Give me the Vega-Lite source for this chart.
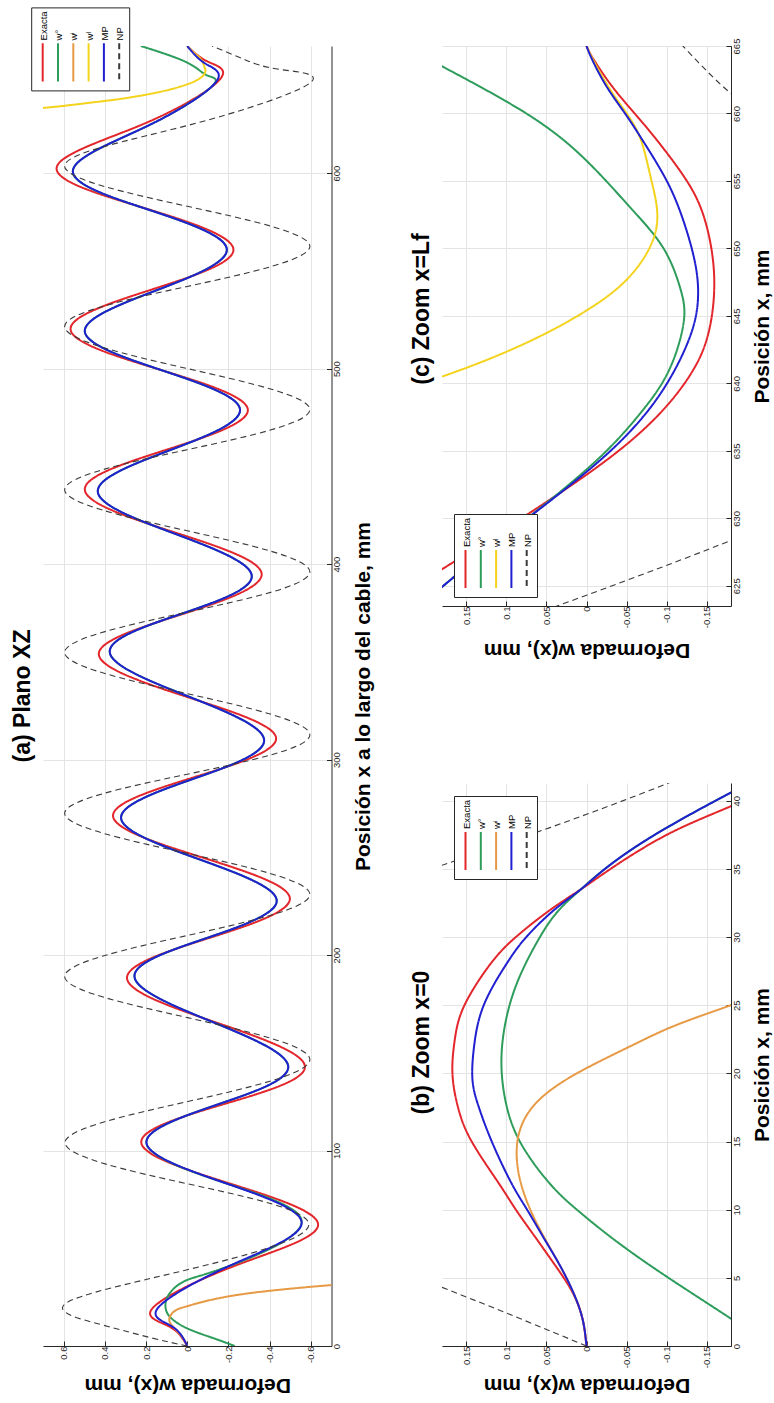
{
  "$schema": "https://vega.github.io/schema/vega-lite/v6.json",
  "background": "white",
  "autosize": {"type": "pad"},
  "padding": {"left": 11, "top": 6, "right": 2, "bottom": 4},
  "config": {
    "font": "Liberation Sans",
    "view": {"stroke": null},
    "axis": {
      "grid": true,
      "gridColor": "#e4e4e4",
      "gridWidth": 1,
      "domainColor": "#262626",
      "domainWidth": 1,
      "tickColor": "#262626",
      "tickSize": -5,
      "tickWidth": 1,
      "labelFont": "Liberation Sans",
      "labelFontSize": 9.5,
      "labelColor": "#262626",
      "titleFont": "Liberation Sans",
      "titleFontSize": 21,
      "titleFontWeight": "bold",
      "titleColor": "black"
    },
    "legend": {
      "orient": "none",
      "direction": "horizontal",
      "symbolType": "M0,-5.5L0,-5.5M0,0.33L0,6.67",
      "symbolSize": 144,
      "symbolStrokeWidth": 2,
      "labelFont": "Liberation Sans",
      "labelFontSize": 9.5,
      "labelColor": "black",
      "labelAlign": "left",
      "labelBaseline": "middle",
      "labelOffset": -6,
      "labelLimit": 200,
      "titleFontSize": 18,
      "titlePadding": 4,
      "columnPadding": 2.3,
      "padding": 4.5,
      "fillColor": "white",
      "strokeColor": "#262626",
      "cornerRadius": 0
    },
    "title": {
      "font": "Liberation Sans",
      "fontSize": 23,
      "fontWeight": "bold",
      "color": "black",
      "orient": "left",
      "anchor": "middle",
      "offset": 8
    }
  },
  "datasets": {
    "plano": [
      {"serie": "Exacta", "p": 0, "w": 0}, {"serie": "Exacta", "p": 10, "w": 0.088}, {"serie": "Exacta", "p": 19.5, "w": 0.167},
      {"serie": "Exacta", "p": 41, "w": -0.23}, {"serie": "Exacta", "p": 62, "w": -0.635}, {"serie": "Exacta", "p": 83, "w": -0.21},
      {"serie": "Exacta", "p": 104, "w": 0.223}, {"serie": "Exacta", "p": 123.5, "w": -0.17}, {"serie": "Exacta", "p": 143, "w": -0.571},
      {"serie": "Exacta", "p": 165.5, "w": -0.14}, {"serie": "Exacta", "p": 188, "w": 0.292}, {"serie": "Exacta", "p": 208.5, "w": -0.1},
      {"serie": "Exacta", "p": 229, "w": -0.498}, {"serie": "Exacta", "p": 250, "w": -0.07}, {"serie": "Exacta", "p": 271, "w": 0.36},
      {"serie": "Exacta", "p": 291, "w": -0.035}, {"serie": "Exacta", "p": 311, "w": -0.431}, {"serie": "Exacta", "p": 332, "w": 0},
      {"serie": "Exacta", "p": 353.7, "w": 0.429}, {"serie": "Exacta", "p": 374, "w": 0.035}, {"serie": "Exacta", "p": 395, "w": -0.361},
      {"serie": "Exacta", "p": 416.5, "w": 0.07}, {"serie": "Exacta", "p": 438, "w": 0.497}, {"serie": "Exacta", "p": 458.5, "w": 0.1},
      {"serie": "Exacta", "p": 479, "w": -0.294}, {"serie": "Exacta", "p": 499.5, "w": 0.135}, {"serie": "Exacta", "p": 520, "w": 0.566},
      {"serie": "Exacta", "p": 540.5, "w": 0.17}, {"serie": "Exacta", "p": 561, "w": -0.224}, {"serie": "Exacta", "p": 582, "w": 0.205},
      {"serie": "Exacta", "p": 602.5, "w": 0.634}, {"serie": "Exacta", "p": 625, "w": 0.215}, {"serie": "Exacta", "p": 648, "w": -0.159},
      {"serie": "Exacta", "p": 657, "w": -0.1}, {"serie": "Exacta", "p": 665, "w": 0},

      {"serie": "w°", "p": 0, "w": -0.23}, {"serie": "w°", "p": 4, "w": -0.127}, {"serie": "w°", "p": 9, "w": 0},
      {"serie": "w°", "p": 15, "w": 0.085}, {"serie": "w°", "p": 21, "w": 0.106}, {"serie": "w°", "p": 27, "w": 0.085},
      {"serie": "w°", "p": 33.5, "w": 0.007}, {"serie": "w°", "p": 41, "w": -0.205}, {"serie": "w°", "p": 63, "w": -0.555},
      {"serie": "w°", "p": 83.5, "w": -0.18}, {"serie": "w°", "p": 104, "w": 0.198}, {"serie": "w°", "p": 123.5, "w": -0.146},
      {"serie": "w°", "p": 143, "w": -0.49}, {"serie": "w°", "p": 166, "w": -0.117}, {"serie": "w°", "p": 189, "w": 0.256},
      {"serie": "w°", "p": 208.5, "w": -0.089}, {"serie": "w°", "p": 228, "w": -0.434}, {"serie": "w°", "p": 249, "w": -0.057},
      {"serie": "w°", "p": 270, "w": 0.321}, {"serie": "w°", "p": 290, "w": -0.026}, {"serie": "w°", "p": 310, "w": -0.373},
      {"serie": "w°", "p": 332.5, "w": 0}, {"serie": "w°", "p": 355, "w": 0.376}, {"serie": "w°", "p": 374.5, "w": 0.03},
      {"serie": "w°", "p": 394, "w": -0.313}, {"serie": "w°", "p": 415.5, "w": 0.06}, {"serie": "w°", "p": 437, "w": 0.434},
      {"serie": "w°", "p": 458, "w": 0.09}, {"serie": "w°", "p": 479, "w": -0.256}, {"serie": "w°", "p": 499, "w": 0.12},
      {"serie": "w°", "p": 519, "w": 0.497}, {"serie": "w°", "p": 540, "w": 0.15}, {"serie": "w°", "p": 561, "w": -0.192},
      {"serie": "w°", "p": 581, "w": 0.18}, {"serie": "w°", "p": 601, "w": 0.555}, {"serie": "w°", "p": 624, "w": 0.195},
      {"serie": "w°", "p": 644.5, "w": -0.121}, {"serie": "w°", "p": 650, "w": -0.096}, {"serie": "w°", "p": 656.5, "w": 0},
      {"serie": "w°", "p": 665, "w": 0.225},

      {"serie": "wⁱ", "p": 0, "w": 0}, {"serie": "wⁱ", "p": 5, "w": 0.027}, {"serie": "wⁱ", "p": 10, "w": 0.07},
      {"serie": "wⁱ", "p": 14, "w": 0.087}, {"serie": "wⁱ", "p": 18, "w": 0.06}, {"serie": "wⁱ", "p": 20, "w": 0.012},
      {"serie": "wⁱ", "p": 22, "w": -0.055}, {"serie": "wⁱ", "p": 25, "w": -0.18}, {"serie": "wⁱ", "p": 28, "w": -0.38},
      {"serie": "wⁱ", "p": 31, "w": -0.68}, {"serie": "wⁱ", "p": 33, "w": -0.95},

      {"serie": "wˡ", "p": 631.5, "w": 0.95}, {"serie": "wˡ", "p": 633.3, "w": 0.7}, {"serie": "wˡ", "p": 636, "w": 0.47},
      {"serie": "wˡ", "p": 638, "w": 0.32}, {"serie": "wˡ", "p": 640.5, "w": 0.18}, {"serie": "wˡ", "p": 643, "w": 0.075},
      {"serie": "wˡ", "p": 645.4, "w": 0}, {"serie": "wˡ", "p": 648, "w": -0.055}, {"serie": "wˡ", "p": 651.5, "w": -0.087},
      {"serie": "wˡ", "p": 655, "w": -0.081}, {"serie": "wˡ", "p": 658, "w": -0.068}, {"serie": "wˡ", "p": 661, "w": -0.038},
      {"serie": "wˡ", "p": 665, "w": 0},

      {"serie": "MP", "p": 0, "w": 0}, {"serie": "MP", "p": 10, "w": 0.074}, {"serie": "MP", "p": 19.5, "w": 0.142},
      {"serie": "MP", "p": 41, "w": -0.205}, {"serie": "MP", "p": 63, "w": -0.555}, {"serie": "MP", "p": 83.5, "w": -0.18},
      {"serie": "MP", "p": 104, "w": 0.198}, {"serie": "MP", "p": 123.5, "w": -0.146}, {"serie": "MP", "p": 143, "w": -0.49},
      {"serie": "MP", "p": 166, "w": -0.117}, {"serie": "MP", "p": 189, "w": 0.256}, {"serie": "MP", "p": 208.5, "w": -0.089},
      {"serie": "MP", "p": 228, "w": -0.434}, {"serie": "MP", "p": 249, "w": -0.057}, {"serie": "MP", "p": 270, "w": 0.321},
      {"serie": "MP", "p": 290, "w": -0.026}, {"serie": "MP", "p": 310, "w": -0.373}, {"serie": "MP", "p": 332.5, "w": 0},
      {"serie": "MP", "p": 355, "w": 0.376}, {"serie": "MP", "p": 374.5, "w": 0.03}, {"serie": "MP", "p": 394, "w": -0.313},
      {"serie": "MP", "p": 415.5, "w": 0.06}, {"serie": "MP", "p": 437, "w": 0.434}, {"serie": "MP", "p": 458, "w": 0.09},
      {"serie": "MP", "p": 479, "w": -0.256}, {"serie": "MP", "p": 499, "w": 0.12}, {"serie": "MP", "p": 519, "w": 0.497},
      {"serie": "MP", "p": 540, "w": 0.15}, {"serie": "MP", "p": 561, "w": -0.192}, {"serie": "MP", "p": 581, "w": 0.18},
      {"serie": "MP", "p": 601, "w": 0.555}, {"serie": "MP", "p": 624, "w": 0.195}, {"serie": "MP", "p": 646.5, "w": -0.139},
      {"serie": "MP", "p": 656, "w": -0.088}, {"serie": "MP", "p": 665, "w": 0},

      {"serie": "NP", "p": 0, "w": 0}, {"serie": "NP", "p": 4.3, "w": 0.18}, {"serie": "NP", "p": 11, "w": 0.42},
      {"serie": "NP", "p": 21.8, "w": 0.59}, {"serie": "NP", "p": 39, "w": 0}, {"serie": "NP", "p": 62, "w": -0.59},
      {"serie": "NP", "p": 83, "w": 0}, {"serie": "NP", "p": 104, "w": 0.593}, {"serie": "NP", "p": 125, "w": 0},
      {"serie": "NP", "p": 146.5, "w": -0.595}, {"serie": "NP", "p": 168, "w": 0}, {"serie": "NP", "p": 189, "w": 0.595},
      {"serie": "NP", "p": 210, "w": 0}, {"serie": "NP", "p": 231, "w": -0.595}, {"serie": "NP", "p": 252, "w": 0},
      {"serie": "NP", "p": 272.5, "w": 0.595}, {"serie": "NP", "p": 292.5, "w": 0}, {"serie": "NP", "p": 312.6, "w": -0.595},
      {"serie": "NP", "p": 333.7, "w": 0}, {"serie": "NP", "p": 354.8, "w": 0.595}, {"serie": "NP", "p": 375.4, "w": 0},
      {"serie": "NP", "p": 396, "w": -0.595}, {"serie": "NP", "p": 417, "w": 0}, {"serie": "NP", "p": 438, "w": 0.595},
      {"serie": "NP", "p": 458.5, "w": 0}, {"serie": "NP", "p": 479, "w": -0.595}, {"serie": "NP", "p": 500, "w": 0},
      {"serie": "NP", "p": 521.5, "w": 0.595}, {"serie": "NP", "p": 542, "w": 0}, {"serie": "NP", "p": 562.5, "w": -0.595},
      {"serie": "NP", "p": 583, "w": 0}, {"serie": "NP", "p": 603.7, "w": 0.595}, {"serie": "NP", "p": 624.3, "w": 0},
      {"serie": "NP", "p": 646, "w": -0.595}, {"serie": "NP", "p": 653, "w": -0.45}, {"serie": "NP", "p": 658, "w": -0.28},
      {"serie": "NP", "p": 665, "w": -0.12}
    ],
    "zoom0": [
      {"serie": "Exacta", "p": 0, "w": 0}, {"serie": "Exacta", "p": 2, "w": 0.005}, {"serie": "Exacta", "p": 4, "w": 0.018},
      {"serie": "Exacta", "p": 6, "w": 0.04}, {"serie": "Exacta", "p": 8, "w": 0.064}, {"serie": "Exacta", "p": 10, "w": 0.088},
      {"serie": "Exacta", "p": 12, "w": 0.11}, {"serie": "Exacta", "p": 15, "w": 0.143}, {"serie": "Exacta", "p": 17.5, "w": 0.16},
      {"serie": "Exacta", "p": 20, "w": 0.167}, {"serie": "Exacta", "p": 22.5, "w": 0.164}, {"serie": "Exacta", "p": 25, "w": 0.152},
      {"serie": "Exacta", "p": 28, "w": 0.12}, {"serie": "Exacta", "p": 30, "w": 0.088}, {"serie": "Exacta", "p": 32, "w": 0.045},
      {"serie": "Exacta", "p": 33.5, "w": 0.007}, {"serie": "Exacta", "p": 35, "w": -0.03}, {"serie": "Exacta", "p": 37.5, "w": -0.1},
      {"serie": "Exacta", "p": 39.6, "w": -0.18}, {"serie": "Exacta", "p": 42, "w": -0.27}, {"serie": "Exacta", "p": 45, "w": -0.38},

      {"serie": "w°", "p": 0, "w": -0.23}, {"serie": "w°", "p": 2, "w": -0.18}, {"serie": "w°", "p": 4, "w": -0.128},
      {"serie": "w°", "p": 6, "w": -0.077}, {"serie": "w°", "p": 8, "w": -0.03}, {"serie": "w°", "p": 10, "w": 0.012},
      {"serie": "w°", "p": 12, "w": 0.047}, {"serie": "w°", "p": 15, "w": 0.083}, {"serie": "w°", "p": 18, "w": 0.101},
      {"serie": "w°", "p": 21, "w": 0.106}, {"serie": "w°", "p": 24, "w": 0.1}, {"serie": "w°", "p": 27, "w": 0.084},
      {"serie": "w°", "p": 30, "w": 0.058}, {"serie": "w°", "p": 32, "w": 0.034}, {"serie": "w°", "p": 33.5, "w": 0.007},
      {"serie": "w°", "p": 35, "w": -0.023}, {"serie": "w°", "p": 37.5, "w": -0.085}, {"serie": "w°", "p": 40.6, "w": -0.18},
      {"serie": "w°", "p": 43, "w": -0.26}, {"serie": "w°", "p": 46, "w": -0.36},

      {"serie": "wⁱ", "p": 0, "w": 0}, {"serie": "wⁱ", "p": 2, "w": 0.005}, {"serie": "wⁱ", "p": 4, "w": 0.017},
      {"serie": "wⁱ", "p": 6, "w": 0.034}, {"serie": "wⁱ", "p": 8, "w": 0.053}, {"serie": "wⁱ", "p": 10, "w": 0.07},
      {"serie": "wⁱ", "p": 12, "w": 0.082}, {"serie": "wⁱ", "p": 14, "w": 0.087}, {"serie": "wⁱ", "p": 16, "w": 0.082},
      {"serie": "wⁱ", "p": 18, "w": 0.06}, {"serie": "wⁱ", "p": 20, "w": 0.012}, {"serie": "wⁱ", "p": 22, "w": -0.055},
      {"serie": "wⁱ", "p": 23.5, "w": -0.11}, {"serie": "wⁱ", "p": 25, "w": -0.18}, {"serie": "wⁱ", "p": 26.5, "w": -0.26},
      {"serie": "wⁱ", "p": 28, "w": -0.38},

      {"serie": "MP", "p": 0, "w": 0}, {"serie": "MP", "p": 2, "w": 0.005}, {"serie": "MP", "p": 4, "w": 0.017},
      {"serie": "MP", "p": 6, "w": 0.034}, {"serie": "MP", "p": 8, "w": 0.054}, {"serie": "MP", "p": 10, "w": 0.074},
      {"serie": "MP", "p": 12, "w": 0.094}, {"serie": "MP", "p": 15, "w": 0.118}, {"serie": "MP", "p": 17.5, "w": 0.134},
      {"serie": "MP", "p": 19.5, "w": 0.142}, {"serie": "MP", "p": 22, "w": 0.14}, {"serie": "MP", "p": 25, "w": 0.128},
      {"serie": "MP", "p": 28, "w": 0.1}, {"serie": "MP", "p": 30, "w": 0.075}, {"serie": "MP", "p": 32, "w": 0.04},
      {"serie": "MP", "p": 33.5, "w": 0.007}, {"serie": "MP", "p": 35, "w": -0.023}, {"serie": "MP", "p": 37.5, "w": -0.085},
      {"serie": "MP", "p": 40.6, "w": -0.18}, {"serie": "MP", "p": 43, "w": -0.26}, {"serie": "MP", "p": 46, "w": -0.36},

      {"serie": "NP", "p": 0, "w": 0}, {"serie": "NP", "p": 4.3, "w": 0.18}, {"serie": "NP", "p": 11, "w": 0.42},
      {"serie": "NP", "p": 21.8, "w": 0.59}, {"serie": "NP", "p": 30, "w": 0.43}, {"serie": "NP", "p": 39, "w": 0},
      {"serie": "NP", "p": 50, "w": -0.4}, {"serie": "NP", "p": 62, "w": -0.59}
    ],
    "zoomLf": [
      {"serie": "Exacta", "p": 618, "w": 0.41}, {"serie": "Exacta", "p": 620, "w": 0.355}, {"serie": "Exacta", "p": 623, "w": 0.27},
      {"serie": "Exacta", "p": 626, "w": 0.186}, {"serie": "Exacta", "p": 629, "w": 0.107}, {"serie": "Exacta", "p": 632, "w": 0.03},
      {"serie": "Exacta", "p": 635, "w": -0.04}, {"serie": "Exacta", "p": 638, "w": -0.095}, {"serie": "Exacta", "p": 641, "w": -0.133},
      {"serie": "Exacta", "p": 644, "w": -0.153}, {"serie": "Exacta", "p": 648, "w": -0.159}, {"serie": "Exacta", "p": 652, "w": -0.148},
      {"serie": "Exacta", "p": 655, "w": -0.125}, {"serie": "Exacta", "p": 658, "w": -0.088}, {"serie": "Exacta", "p": 660, "w": -0.06},
      {"serie": "Exacta", "p": 662, "w": -0.032}, {"serie": "Exacta", "p": 664, "w": -0.009}, {"serie": "Exacta", "p": 665, "w": 0},

      {"serie": "w°", "p": 618, "w": 0.34}, {"serie": "w°", "p": 620, "w": 0.29}, {"serie": "w°", "p": 623, "w": 0.22},
      {"serie": "w°", "p": 626, "w": 0.158}, {"serie": "w°", "p": 629, "w": 0.095}, {"serie": "w°", "p": 632, "w": 0.032},
      {"serie": "w°", "p": 635, "w": -0.025}, {"serie": "w°", "p": 638, "w": -0.07}, {"serie": "w°", "p": 641, "w": -0.103},
      {"serie": "w°", "p": 644.5, "w": -0.121}, {"serie": "w°", "p": 647, "w": -0.117}, {"serie": "w°", "p": 650, "w": -0.096},
      {"serie": "w°", "p": 653, "w": -0.055}, {"serie": "w°", "p": 656.5, "w": 0}, {"serie": "w°", "p": 660, "w": 0.075},
      {"serie": "w°", "p": 663.5, "w": 0.18}, {"serie": "w°", "p": 665, "w": 0.225},

      {"serie": "wˡ", "p": 634, "w": 0.62}, {"serie": "wˡ", "p": 636, "w": 0.47}, {"serie": "wˡ", "p": 638, "w": 0.32},
      {"serie": "wˡ", "p": 640.5, "w": 0.18}, {"serie": "wˡ", "p": 643, "w": 0.075}, {"serie": "wˡ", "p": 645.4, "w": 0},
      {"serie": "wˡ", "p": 648, "w": -0.055}, {"serie": "wˡ", "p": 651.5, "w": -0.087}, {"serie": "wˡ", "p": 655, "w": -0.081},
      {"serie": "wˡ", "p": 658, "w": -0.068}, {"serie": "wˡ", "p": 660, "w": -0.05}, {"serie": "wˡ", "p": 662, "w": -0.027},
      {"serie": "wˡ", "p": 664, "w": -0.008}, {"serie": "wˡ", "p": 665, "w": 0},

      {"serie": "MP", "p": 618, "w": 0.34}, {"serie": "MP", "p": 620, "w": 0.29}, {"serie": "MP", "p": 623, "w": 0.22},
      {"serie": "MP", "p": 626, "w": 0.158}, {"serie": "MP", "p": 629, "w": 0.095}, {"serie": "MP", "p": 632, "w": 0.03},
      {"serie": "MP", "p": 635, "w": -0.03}, {"serie": "MP", "p": 638, "w": -0.077}, {"serie": "MP", "p": 641, "w": -0.11},
      {"serie": "MP", "p": 644, "w": -0.132}, {"serie": "MP", "p": 646.5, "w": -0.139}, {"serie": "MP", "p": 649, "w": -0.135},
      {"serie": "MP", "p": 652, "w": -0.121}, {"serie": "MP", "p": 655, "w": -0.1}, {"serie": "MP", "p": 658, "w": -0.07},
      {"serie": "MP", "p": 660, "w": -0.048}, {"serie": "MP", "p": 662, "w": -0.025}, {"serie": "MP", "p": 664, "w": -0.007},
      {"serie": "MP", "p": 665, "w": 0},

      {"serie": "NP", "p": 603.7, "w": 0.595}, {"serie": "NP", "p": 614, "w": 0.42}, {"serie": "NP", "p": 624.3, "w": 0},
      {"serie": "NP", "p": 635, "w": -0.42}, {"serie": "NP", "p": 646, "w": -0.595}, {"serie": "NP", "p": 653, "w": -0.45},
      {"serie": "NP", "p": 658, "w": -0.28}, {"serie": "NP", "p": 661, "w": -0.19}, {"serie": "NP", "p": 665, "w": -0.12}
    ]
  },
  "spacing": 110,
  "bounds": "flush",
  "resolve": {
    "scale": {"color": "independent", "strokeDash": "independent"},
    "legend": {"color": "independent", "strokeDash": "independent"}
  },
  "hconcat": [
    {
      "width": 288.5,
      "height": 1300,
      "title": {"text": "(a) Plano XZ", "offset": -4},
      "data": {"name": "plano"},
      "mark": {"type": "line", "interpolate": "natural", "clip": true},
      "encoding": {
        "x": {
          "field": "w", "type": "quantitative",
          "scale": {"domain": [-0.7, 0.7], "reverse": true, "nice": false, "zero": false},
          "axis": {
            "values": [-0.6, -0.4, -0.2, 0, 0.2, 0.4, 0.6],
            "labelExpr": "'' + datum.value",
            "title": "Deformada w(x), mm",
            "labelAngle": -90, "labelAlign": "right", "labelBaseline": "middle", "labelPadding": 5,
            "titleAngle": 180, "titleBaseline": "bottom", "titlePadding": 12
          }
        },
        "y": {
          "field": "p", "type": "quantitative",
          "scale": {"domain": [0, 665], "nice": false, "zero": false},
          "axis": {
            "orient": "right",
            "values": [0, 100, 200, 300, 400, 500, 600],
            "title": "Posición x a lo largo del cable, mm",
            "labelAngle": -90, "labelAlign": "center", "labelBaseline": "top", "labelPadding": 5,
            "titleAngle": -90, "titleBaseline": "top", "titlePadding": 11
          }
        },
        "order": {"field": "p", "type": "quantitative"},
        "color": {
          "field": "serie", "type": "nominal",
          "scale": {"domain": ["Exacta", "w°", "wⁱ", "wˡ", "MP", "NP"], "range": ["#e3262b", "#2e9d5c", "#e79a45", "#f4d31c", "#2020d0", "#3a3a3a"]},
          "legend": {"title": " ", "legendX": -11.8, "legendY": -38.6, "encoding": {"labels": {"angle": {"value": -90}, "dx": {"value": 1}}}}
        },
        "strokeDash": {
          "field": "serie", "type": "nominal",
          "scale": {"domain": ["Exacta", "w°", "wⁱ", "wˡ", "MP", "NP"], "range": [[1, 0], [1, 0], [1, 0], [1, 0], [1, 0], [6, 4]]},
          "legend": {"title": " ", "legendX": -11.8, "legendY": -38.6, "encoding": {"labels": {"angle": {"value": -90}, "dx": {"value": 1}}}}
        },
        "strokeWidth": {"condition": {"test": "datum.serie === 'NP'", "value": 1.1}, "value": 2}
      }
    },
    {
      "spacing": 177,
      "bounds": "flush",
      "resolve": {
        "scale": {"color": "independent", "strokeDash": "independent"},
        "legend": {"color": "independent", "strokeDash": "independent"}
      },
      "vconcat": [
        {
          "width": 289,
          "height": 560,
          "title": {"text": "(c) Zoom x=Lf", "dx": 17},
          "data": {"name": "zoomLf"},
          "mark": {"type": "line", "interpolate": "natural", "clip": true},
          "encoding": {
            "x": {
              "field": "w", "type": "quantitative",
              "scale": {"domain": [-0.18, 0.18], "reverse": true, "nice": false, "zero": false},
              "axis": {
                "values": [-0.15, -0.1, -0.05, 0, 0.05, 0.1, 0.15],
                "labelExpr": "'' + datum.value",
                "title": "Deformada w(x), mm",
                "labelAngle": -90, "labelAlign": "right", "labelBaseline": "middle", "labelPadding": 5,
                "titleAngle": 180, "titleBaseline": "bottom", "titlePadding": 12
              }
            },
            "y": {
              "field": "p", "type": "quantitative",
              "scale": {"domain": [623.5, 665], "nice": false, "zero": false},
              "axis": {
                "orient": "right",
                "values": [625, 630, 635, 640, 645, 650, 655, 660, 665],
                "title": "Posición x, mm",
                "labelAngle": -90, "labelAlign": "center", "labelBaseline": "top", "labelPadding": 5,
                "titleAngle": -90, "titleBaseline": "top", "titlePadding": 11
              }
            },
            "order": {"field": "p", "type": "quantitative"},
            "color": {
              "field": "serie", "type": "nominal",
              "scale": {"domain": ["Exacta", "w°", "wˡ", "MP", "NP"], "range": ["#e3262b", "#2e9d5c", "#f4d31c", "#2020d0", "#3a3a3a"]},
              "legend": {"title": " ", "legendX": 12, "legendY": 468, "encoding": {"labels": {"angle": {"value": -90}, "dx": {"value": 1}}}}
            },
            "strokeDash": {
              "field": "serie", "type": "nominal",
              "scale": {"domain": ["Exacta", "w°", "wˡ", "MP", "NP"], "range": [[1, 0], [1, 0], [1, 0], [1, 0], [6, 4]]},
              "legend": {"title": " ", "legendX": 12, "legendY": 468, "encoding": {"labels": {"angle": {"value": -90}, "dx": {"value": 1}}}}
            },
            "strokeWidth": {"condition": {"test": "datum.serie === 'NP'", "value": 1.1}, "value": 2}
          }
        },
        {
          "width": 289,
          "height": 563,
          "title": {"text": "(b) Zoom x=0", "dx": 22},
          "data": {"name": "zoom0"},
          "mark": {"type": "line", "interpolate": "natural", "clip": true},
          "encoding": {
            "x": {
              "field": "w", "type": "quantitative",
              "scale": {"domain": [-0.18, 0.18], "reverse": true, "nice": false, "zero": false},
              "axis": {
                "values": [-0.15, -0.1, -0.05, 0, 0.05, 0.1, 0.15],
                "labelExpr": "'' + datum.value",
                "title": "Deformada w(x), mm",
                "labelAngle": -90, "labelAlign": "right", "labelBaseline": "middle", "labelPadding": 5,
                "titleAngle": 180, "titleBaseline": "bottom", "titlePadding": 7
              }
            },
            "y": {
              "field": "p", "type": "quantitative",
              "scale": {"domain": [0, 41.3], "nice": false, "zero": false},
              "axis": {
                "orient": "right",
                "values": [0, 5, 10, 15, 20, 25, 30, 35, 40],
                "title": "Posición x, mm",
                "labelAngle": -90, "labelAlign": "center", "labelBaseline": "top", "labelPadding": 5,
                "titleAngle": -90, "titleBaseline": "top", "titlePadding": 11
              }
            },
            "order": {"field": "p", "type": "quantitative"},
            "color": {
              "field": "serie", "type": "nominal",
              "scale": {"domain": ["Exacta", "w°", "wⁱ", "MP", "NP"], "range": ["#e3262b", "#2e9d5c", "#e79a45", "#2020d0", "#3a3a3a"]},
              "legend": {"title": " ", "legendX": 12, "legendY": 13, "encoding": {"labels": {"angle": {"value": -90}, "dx": {"value": 1}}}}
            },
            "strokeDash": {
              "field": "serie", "type": "nominal",
              "scale": {"domain": ["Exacta", "w°", "wⁱ", "MP", "NP"], "range": [[1, 0], [1, 0], [1, 0], [1, 0], [6, 4]]},
              "legend": {"title": " ", "legendX": 12, "legendY": 13, "encoding": {"labels": {"angle": {"value": -90}, "dx": {"value": 1}}}}
            },
            "strokeWidth": {"condition": {"test": "datum.serie === 'NP'", "value": 1.1}, "value": 2}
          }
        }
      ]
    }
  ]
}
